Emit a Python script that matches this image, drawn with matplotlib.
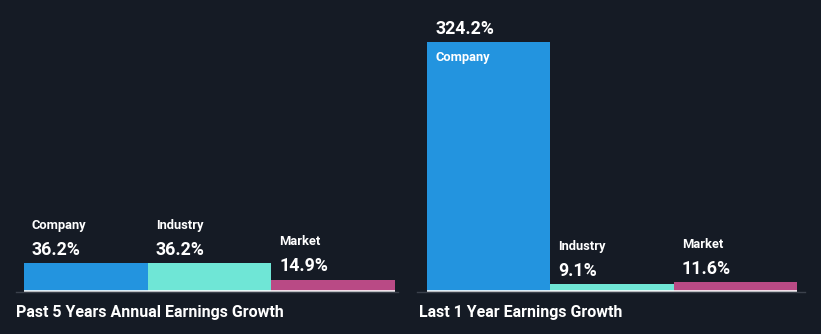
import matplotlib
matplotlib.use("Agg")
import matplotlib.pyplot as plt
from matplotlib.transforms import offset_copy
from matplotlib.lines import Line2D

categories = ["Company", "Industry", "Market"]
past5_values = [36.2, 36.2, 14.9]
last1_values = [324.2, 9.1, 11.6]
panel_titles = ["Past 5 Years Annual Earnings Growth", "Last 1 Year Earnings Growth"]
colors = ["#2394df", "#6fe6d6", "#b94a85"]

BG = "#151b25"
W, H = 821, 334
plt.rcParams['font.family'] = ['Roboto', 'DejaVu Sans']

fig = plt.figure(figsize=(W / 100, H / 100), dpi=100, facecolor=BG)

YMAX = 291 / 0.768
base_px = 291

def panel(x0, x1, values, title, title_x):
    ax = fig.add_axes([x0 / W, (H - base_px) / H, (x1 - x0) / W, base_px / H])
    ax.set_facecolor(BG)
    ax.patch.set_alpha(0)
    ax.set_xlim(0, 3)
    ax.set_ylim(0, YMAX)
    ax.axis("off")
    xs = list(range(len(values)))
    ax.bar(xs, values, width=1, align="edge", color=colors, edgecolor="none")
    for i, (v, name) in enumerate(zip(values, categories)):
        bar_px = v * 0.768
        if bar_px > 60:
            vy, ny = 13, -15
        else:
            vy, ny = 13.5, 38
        tr_v = offset_copy(ax.transData, fig=fig, x=8, y=vy, units="dots")
        ax.text(i, v, f"{v:.1f}%", transform=tr_v, color="white",
                fontsize=12.8, fontweight="bold", ha="left", va="center")
        tr_n = offset_copy(ax.transData, fig=fig, x=8, y=ny, units="dots")
        ax.text(i, v, name, transform=tr_n, color="white",
                fontsize=9.3, fontweight="bold", ha="left", va="center")
    ax.plot([0, 3], [0, 0], color="white", lw=1.2, solid_capstyle="butt", clip_on=False)
    fig.text(title_x / W, 1 - 313 / H, title, color="white", fontsize=11.5,
             fontweight="bold", ha="left", va="center")
    return ax

for (a, b) in [(16, 398), (417, 805)]:
    fig.add_artist(Line2D([a / W, b / W], [1 - 292 / H, 1 - 292 / H],
                          color="#3b414c", lw=1, transform=fig.transFigure))

panel(24, 395, past5_values, panel_titles[0], 16)
panel(427, 797, last1_values, panel_titles[1], 419)

fig.savefig("out.png", dpi=100, facecolor=BG)
